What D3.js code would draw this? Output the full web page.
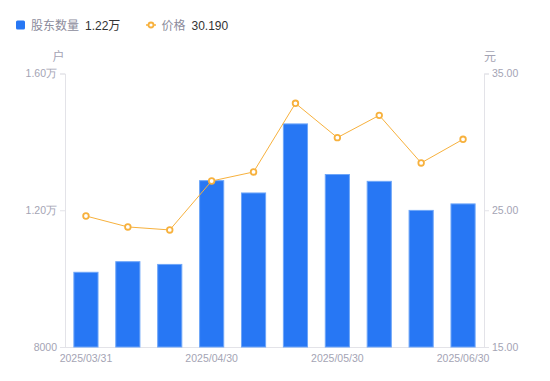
<!DOCTYPE html>
<html><head><meta charset="utf-8">
<script src="https://cdn.jsdelivr.net/npm/d3@7"></script>
<style>
html,body{margin:0;padding:0;background:#fff;}
svg{display:block;font-family:"Liberation Sans",Arial,"Noto Sans CJK SC",sans-serif;}
</style></head>
<body><svg id="c" width="550" height="381"></svg>
<script>
const dates = ["2025/03/31","2025/04/10","2025/04/18","2025/04/30","2025/05/09","2025/05/20","2025/05/30","2025/06/10","2025/06/20","2025/06/30"];
const shownDates = ["2025/03/31","2025/04/30","2025/05/30","2025/06/30"];
const holders = [10200,10510,10430,12880,12520,14540,13060,12860,12010,12200];
const prices = [24.58,23.78,23.56,27.14,27.80,32.82,30.31,31.94,28.46,30.19];
const leftTicks = [8000,12000,16000];
const rightTicks = [15,25,35];
const seriesNames = ["股东数量","价格"];
const legendValues = ["1.22万","30.190"];
const axisNames = ["户","元"];

const W=550,H=381, L=65, R=484, T=73.5, B=347;
const svg=d3.select("#c");
const x=d3.scaleBand().domain(dates).range([L,R]).paddingInner(0.4).paddingOuter(0.2);
const yL=d3.scaleLinear().domain([8000,16000]).range([B,T]);
const yR=d3.scaleLinear().domain([15,35]).range([B,T]);
const tickColor="#a4a4b4", axisColor="#e3e3e8";

const fmtL=v=> v>=10000 ? (v/10000).toFixed(2)+"万" : String(v);

// axes
const gl=svg.append("g").attr("transform",`translate(${L},0)`)
  .call(d3.axisLeft(yL).tickValues(leftTicks).tickFormat(fmtL).tickSize(5).tickPadding(3));
const gr=svg.append("g").attr("transform",`translate(${R},0)`)
  .call(d3.axisRight(yR).tickValues(rightTicks).tickFormat(d=>d.toFixed(2)).tickSize(5).tickPadding(3));
const gx=svg.append("g").attr("transform",`translate(0,${B})`)
  .call(d3.axisBottom(x).tickValues(shownDates).tickSize(0).tickPadding(8));
[gl,gr,gx].forEach(g=>{
  g.selectAll(".domain").attr("stroke",axisColor);
  g.selectAll(".tick line").attr("stroke",axisColor);
  g.selectAll("text").attr("fill",tickColor).style("font-size","10.5px").style("font-family","'Liberation Sans',Arial,sans-serif");
});
gx.select(".domain").attr("d",`M${L},0.5H${R}`);

// axis names
svg.append("text").attr("x",58.5).attr("y",61).attr("text-anchor","middle").attr("fill",tickColor).style("font-size","12px").text(axisNames[0]);
svg.append("text").attr("x",490).attr("y",61).attr("text-anchor","middle").attr("fill",tickColor).style("font-size","12px").text(axisNames[1]);

// bars
const barColor="#2777f4";
svg.append("g").selectAll("rect").data(holders).join("rect")
  .attr("x",(d,i)=>x(dates[i])+0.5).attr("width",x.bandwidth()-1)
  .attr("y",d=>yL(d)+0.5).attr("height",d=>B-yL(d)-0.5)
  .attr("fill",barColor).attr("stroke","#6ea6f8").attr("stroke-width",1);

// line
const lineColor="#f7b13d";
const cx=(i)=>x(dates[i])+x.bandwidth()/2;
svg.append("path").datum(prices)
  .attr("d",d3.line().x((d,i)=>cx(i)).y(d=>yR(d)))
  .attr("fill","none").attr("stroke",lineColor).attr("stroke-width",1);
svg.append("g").selectAll("circle").data(prices).join("circle")
  .attr("cx",(d,i)=>cx(i)).attr("cy",d=>yR(d)).attr("r",2.8)
  .attr("fill","#fff").attr("stroke",lineColor).attr("stroke-width",1.8);

// legend
const lg=svg.append("g");
lg.append("rect").attr("x",16).attr("y",20.5).attr("width",9).attr("height",9).attr("rx",1.5).attr("fill",barColor);
lg.append("text").attr("x",31).attr("y",29.5).attr("fill","#8c8c9c").style("font-size","12px").text(seriesNames[0]);
lg.append("text").attr("x",85).attr("y",29.5).attr("fill","#333").style("font-size","12px").text(legendValues[0]);
lg.append("line").attr("x1",146).attr("x2",156).attr("y1",25).attr("y2",25).attr("stroke",lineColor).attr("stroke-width",1.5);
lg.append("circle").attr("cx",151).attr("cy",25).attr("r",2.5).attr("fill","#fff").attr("stroke",lineColor).attr("stroke-width",1.8);
lg.append("text").attr("x",161.5).attr("y",29.5).attr("fill","#8c8c9c").style("font-size","12px").text(seriesNames[1]);
lg.append("text").attr("x",191.5).attr("y",29.5).attr("fill","#333").style("font-size","12px").text(legendValues[1]);
</script></body></html>
